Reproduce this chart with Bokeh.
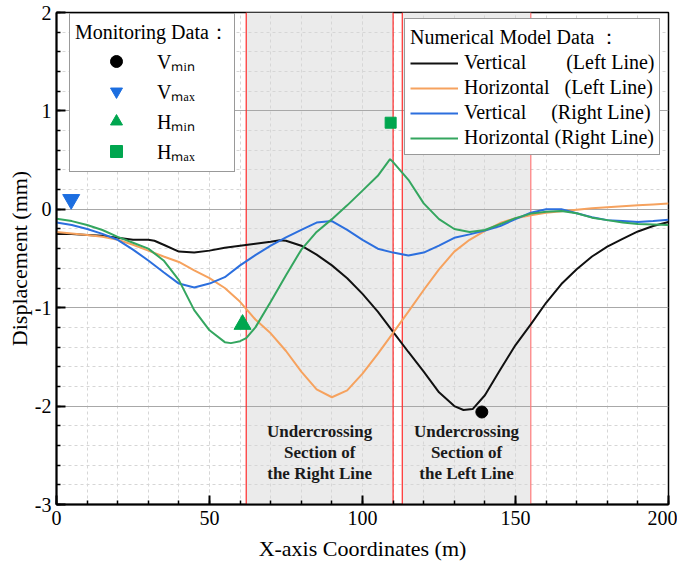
from bokeh.plotting import figure
from bokeh.models import (Range1d, SingleIntervalTicker, Legend, LegendItem, Span,
                          CustomJSTickFormatter)
from bokeh.embed import file_html
from bokeh.resources import INLINE
from bokeh.core.properties import value

# ---------------- data ----------------
# Numerical model: Vertical (Left Line)
vl_x = [0, 5, 10, 15, 20, 25, 30, 32, 35, 40, 45, 50, 55, 60, 65, 70, 73, 75, 80, 85, 90, 95, 100,
        105, 110, 115, 120, 125, 130, 133, 136, 140, 145, 150, 155, 160, 165, 170, 175, 180, 185,
        190, 195, 200]
vl_y = [-0.25, -0.25, -0.26, -0.27, -0.29, -0.31, -0.31, -0.32, -0.36, -0.43, -0.44, -0.42, -0.39,
        -0.37, -0.35, -0.33, -0.315, -0.32, -0.37, -0.46, -0.57, -0.70, -0.86, -1.04, -1.245, -1.45,
        -1.65, -1.86, -2.0, -2.04, -2.03, -1.89, -1.63, -1.38, -1.17, -0.95, -0.76, -0.61, -0.48,
        -0.38, -0.30, -0.225, -0.17, -0.13]

# Numerical model: Horizontal (Left Line)
hl_x = list(range(0, 201, 5))
hl_y = [-0.23, -0.245, -0.26, -0.28, -0.31, -0.36, -0.42, -0.48, -0.535, -0.62, -0.70, -0.80, -0.94,
        -1.12, -1.26, -1.44, -1.65, -1.83, -1.91, -1.84, -1.67, -1.47, -1.255, -1.04, -0.82, -0.61,
        -0.43, -0.31, -0.22, -0.14, -0.09, -0.06, -0.035, -0.02, -0.005, 0.01, 0.02, 0.03, 0.04,
        0.05, 0.058]

# Numerical model: Vertical (Right Line)
vr_x = list(range(0, 201, 5))
vr_y = [-0.135, -0.16, -0.20, -0.25, -0.31, -0.41, -0.52, -0.64, -0.755, -0.795, -0.755, -0.69,
        -0.57, -0.465, -0.37, -0.285, -0.21, -0.135, -0.12, -0.21, -0.31, -0.40, -0.44, -0.47,
        -0.44, -0.37, -0.29, -0.255, -0.215, -0.17, -0.10, -0.035, 0.0, 0.0, -0.04, -0.08, -0.11,
        -0.12, -0.13, -0.12, -0.105]

# Numerical model: Horizontal (Right Line)
hr_x = [0, 5, 10, 15, 20, 25, 30, 35, 40, 45, 50, 55, 57, 60, 62, 65, 70, 75, 80, 85, 90, 95, 100,
        105, 109, 110, 115, 120, 125, 130, 135, 140, 145, 150, 155, 160, 165, 170, 175, 180, 185,
        190, 195, 200]
hr_y = [-0.095, -0.12, -0.16, -0.21, -0.28, -0.34, -0.40, -0.52, -0.72, -1.025, -1.23, -1.35, -1.36,
        -1.34, -1.31, -1.20, -0.94, -0.67, -0.41, -0.23, -0.10, 0.04, 0.19, 0.34, 0.51, 0.48, 0.30,
        0.06, -0.10, -0.20, -0.23, -0.21, -0.15, -0.09, -0.044, -0.025, -0.017, -0.04, -0.085,
        -0.11, -0.135, -0.15, -0.155, -0.16]

# Monitoring data points: V_min, V_max, H_min, H_max
mon_labels = ["V\u2098\u1d62\u2099", "V\u2098\u2090\u2093", "H\u2098\u1d62\u2099", "H\u2098\u2090\u2093"]
mon_x = [139, 4.8, 60.8, 109.2]
mon_y = [-2.06, 0.10, -1.17, 0.88]

# Undercrossing sections (m)
sec_left = [62, 113]
sec_right = [110, 155]
sec_text = ["Undercrossing\nSection of\nthe Right Line", "Undercrossing\nSection of\nthe Left Line"]

x_ticks_major = 50
y_ticks_major = 1

# ---------------- figure ----------------
FONT = "Liberation Serif"
p = figure(width=677, height=568, output_backend="svg", toolbar_location=None,
           x_range=Range1d(0, 200), y_range=Range1d(-3, 2),
           min_border_left=56, min_border_right=9, min_border_top=12, min_border_bottom=64,
           background_fill_color="white")

p.outline_line_color = "black"
p.outline_line_width = 1.5

# shaded sections (below grid)
p.quad(left=sec_left, right=sec_right, bottom=-3, top=2, fill_color="#EBEBEB",
       line_color=None, level="image")
span_cols = ["#FF2A2A", "#FF2A2A", "#FF2A2A", "#FF7A7A"]
for v, c in zip(sec_left + sec_right, [span_cols[0], span_cols[2], span_cols[1], span_cols[3]]):
    p.add_layout(Span(location=v, dimension="height", line_color=c,
                      line_width=1.2, level="underlay"))

# axes
fmt = CustomJSTickFormatter(code="return tick.toFixed(0);")
p.xaxis.ticker = SingleIntervalTicker(interval=x_ticks_major, num_minor_ticks=5)
p.yaxis.ticker = SingleIntervalTicker(interval=y_ticks_major, num_minor_ticks=5)
for ax in (p.xaxis[0], p.yaxis[0]):
    ax.formatter = fmt
    ax.axis_line_width = 2
    ax.axis_line_color = "black"
    ax.major_tick_in = 9
    ax.major_tick_out = 0
    ax.minor_tick_in = 4
    ax.minor_tick_out = 0
    ax.major_tick_line_width = 2
    ax.minor_tick_line_width = 1.5
    ax.major_label_text_font = FONT
    ax.major_label_text_font_size = "20px"
    ax.major_label_text_color = "black"
    ax.axis_label_text_font = FONT
    ax.axis_label_text_font_size = "22px"
    ax.axis_label_text_font_style = "normal"
    ax.axis_label_text_color = "black"
p.xaxis.axis_label = "X-axis Coordinates (m)"
p.yaxis.axis_label = "Displacement (mm)"
p.xaxis.major_label_standoff = 6
p.xaxis.axis_label_standoff = 8
p.yaxis.major_label_standoff = 5
p.yaxis.axis_label_standoff = 0

# grids
p.ygrid.grid_line_color = "#A8A8A8"
p.ygrid.grid_line_width = 1.2
p.ygrid.minor_grid_line_color = "#D6D6D6"
p.ygrid.minor_grid_line_dash = "3 3"
p.xgrid.grid_line_color = "#D6D6D6"
p.xgrid.grid_line_dash = "3 3"
p.xgrid.minor_grid_line_color = "#D6D6D6"
p.xgrid.minor_grid_line_dash = "3 3"

# section texts
p.text(x=[(a + b) / 2 for a, b in zip(sec_left, sec_right)], y=[-2.47, -2.47], text=sec_text,
       text_font=value(FONT), text_font_style="bold", text_font_size="17px",
       text_align="center", text_baseline="middle", text_line_height=1.12, text_color="#1a1a1a")

# model curves
series = [
    (vl_x, vl_y, "#111111", "Vertical\u00a0\u00a0\u00a0\u00a0\u00a0\u00a0\u00a0\u00a0(Left Line)"),
    (hl_x, hl_y, "#F6A25E", "Horizontal\u00a0\u00a0\u00a0(Left Line)"),
    (vr_x, vr_y, "#2C6FDE", "Vertical\u00a0\u00a0\u00a0\u00a0\u00a0(Right Line)"),
    (hr_x, hr_y, "#34A65F", "Horizontal (Right Line)"),
]
model_items = []
for xs, ys, col, lab in series:
    lr = p.line(xs, ys, line_color=col, line_width=2)
    mr = p.scatter(x=[], y=[], marker="square", size=4, fill_color=col, line_color=col,
                   fill_alpha=0.5, line_alpha=0.5)
    model_items.append(LegendItem(label=lab, renderers=[lr, mr]))

# monitoring markers
mon_styles = [("circle", "black", 12), ("inverted_triangle", "#1C6EE0", 17),
              ("triangle", "#00A64F", 17), ("square", "#00A64F", 11)]
mon_items = []
for i, (mk, col, sz) in enumerate(mon_styles):
    r = p.scatter(x=[mon_x[i]], y=[mon_y[i]], marker=mk, size=sz, fill_color=col, line_color=col)
    mon_items.append(LegendItem(label=mon_labels[i], renderers=[r]))

leg1 = Legend(items=mon_items, location=(13, 332), title="Monitoring Data\uff1a")
leg2 = Legend(items=model_items, location=(348, 349), title="Numerical Model Data \uff1a")
for lg in (leg1, leg2):
    lg.title_text_font = FONT
    lg.title_text_font_size = "20px"
    lg.title_text_font_style = "normal"
    lg.title_text_color = "black"
    lg.label_text_font = FONT
    lg.label_text_font_size = "20px"
    lg.label_text_color = "black"
    lg.border_line_color = "#333333"
    lg.border_line_width = 1.2
    lg.background_fill_alpha = 1
    lg.margin = 0
leg1.padding = 5
leg1.glyph_width = 82
leg1.glyph_height = 30
leg1.label_height = 20
leg1.label_standoff = 0
leg1.spacing = 0
leg1.title_standoff = 0
leg2.padding = 5
leg2.glyph_width = 48
leg2.glyph_height = 10
leg2.label_height = 20
leg2.label_standoff = 6
leg2.spacing = 2
leg2.title_standoff = 0
p.add_layout(leg1)
p.add_layout(leg2)

open("out.html", "w").write(file_html(p, INLINE))
